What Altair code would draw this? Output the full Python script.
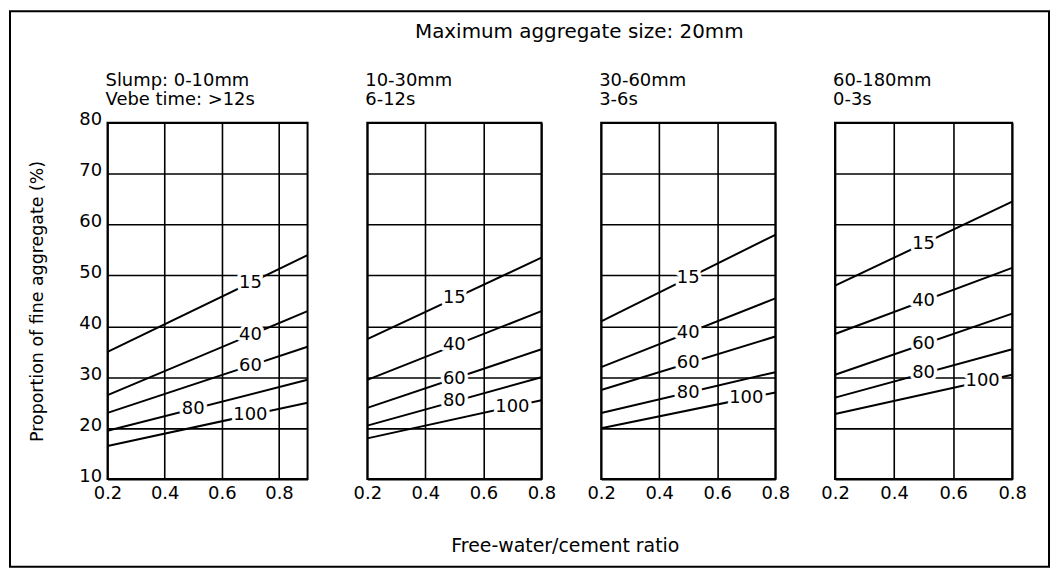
import altair as alt
import pandas as pd

FONT = "DejaVu Sans"

# ---- data ----
fine_pct = ["15", "40", "60", "80", "100"]          # % passing 600 µm sieve
slump = ["Slump: 0-10mm", "10-30mm", "30-60mm", "60-180mm"]
vebe = ["Vebe time: >12s", "6-12s", "3-6s", "0-3s"]
x_start = [0.2, 0.2, 0.2, 0.2]
x_end = [0.9, 0.8, 0.8, 0.8]
y_at_start = [
    [35.0, 26.5, 23.0, 19.5, 16.5],
    [37.5, 29.5, 24.0, 20.5, 18.0],
    [41.0, 32.0, 27.5, 23.0, 20.0],
    [48.0, 38.5, 30.5, 26.0, 22.8],
]
y_at_end = [
    [54.0, 43.0, 36.0, 29.5, 25.0],
    [53.5, 43.0, 35.5, 30.0, 25.5],
    [58.0, 45.5, 38.0, 31.0, 27.0],
    [64.5, 51.5, 42.5, 35.5, 30.5],
]
label_x = [
    [0.7, 0.7, 0.7, 0.5, 0.7],
    [0.5, 0.5, 0.5, 0.5, 0.7],
    [0.5, 0.5, 0.5, 0.5, 0.7],
    [0.5, 0.5, 0.5, 0.5, 0.7],
]
x_ticks = [0.2, 0.4, 0.6, 0.8]
y_ticks = [10, 20, 30, 40, 50, 60, 70, 80]
main_title = ["Maximum aggregate size: 20mm"]
x_title = ["Free-water/cement ratio"]
y_title = "Proportion of fine aggregate (%)"


def panel(i):
    seg_rows, lab_rows = [], []
    for k, c in enumerate(fine_pct):
        x0, x1 = x_start[i], x_end[i]
        y0, y1 = y_at_start[i][k], y_at_end[i][k]
        seg_rows.append({"curve": c, "x": x0, "y": y0})
        seg_rows.append({"curve": c, "x": x1, "y": y1})
        lx = label_x[i][k]
        ly = y0 + (y1 - y0) * (lx - x0) / (x1 - x0)
        lab_rows.append({"curve": c, "x": lx, "y": ly})
    seg = pd.DataFrame(seg_rows)
    lab = pd.DataFrame(lab_rows)

    xenc = alt.X("x:Q",
                 scale=alt.Scale(domain=[x_start[i], x_end[i]], nice=False, zero=False),
                 axis=alt.Axis(values=x_ticks, format=".1f", title=None, grid=True,
                               labelFlush=False, labelPadding=6))
    if i == 0:
        yaxis = alt.Axis(values=y_ticks, title=y_title, grid=True, labelFlush=False,
                         labelPadding=6, labelOffset=-3, titleFont=FONT, titleFontSize=17.5,
                         titleFontWeight="normal", titleColor="black", titlePadding=32)
    else:
        yaxis = alt.Axis(values=y_ticks, title=None, grid=True, labels=False)
    yenc = alt.Y("y:Q", scale=alt.Scale(domain=[10, 80], nice=False, zero=False), axis=yaxis)

    lines = alt.Chart(seg).mark_line(color="black", strokeWidth=2).encode(
        x=xenc, y=yenc, detail="curve:N")
    halo = alt.Chart(lab).mark_text(font=FONT, fontSize=18, fill="white", stroke="white",
                                    strokeWidth=7, strokeJoin="round").encode(
        x="x:Q", y="y:Q", text="curve:N")
    txt = alt.Chart(lab).mark_text(font=FONT, fontSize=18, color="black").encode(
        x="x:Q", y="y:Q", text="curve:N")
    h1 = alt.Chart(pd.DataFrame({"t": [slump[i]]})).mark_text(
        font=FONT, fontSize=18, align="left", baseline="middle", color="black").encode(
        x=alt.value(-2), y=alt.value(-42), text="t:N")
    h2 = alt.Chart(pd.DataFrame({"t": [vebe[i]]})).mark_text(
        font=FONT, fontSize=18, align="left", baseline="middle", color="black").encode(
        x=alt.value(-2), y=alt.value(-23), text="t:N")
    layers = [lines, halo, txt, h1, h2]
    if i == 0:
        border = alt.Chart(pd.DataFrame({"a": [0]})).mark_rect(
            fill="white", fillOpacity=0, stroke="black", strokeWidth=2).encode(
            x=alt.value(-98), x2=alt.value(946), y=alt.value(-112), y2=alt.value(446))
        ttl = alt.Chart(pd.DataFrame({"t": main_title})).mark_text(
            font=FONT, fontSize=20, align="center", baseline="middle", color="black").encode(
            x=alt.value(474), y=alt.value(-91), text="t:N")
        xt = alt.Chart(pd.DataFrame({"t": x_title})).mark_text(
            font=FONT, fontSize=19, align="center", baseline="middle", color="black").encode(
            x=alt.value(460), y=alt.value(425), text="t:N")
        layers = [border] + layers + [ttl, xt]
    w = [201, 175, 175, 178][i]
    return alt.layer(*layers).properties(width=w, height=358)


chart = alt.hconcat(*[panel(i) for i in range(4)], spacing=60, bounds="flush").properties(
    padding=0
).configure_view(stroke="black", strokeWidth=2).configure_axis(
    gridColor="black", gridWidth=1.6, gridOpacity=1, domain=False, ticks=False,
    labelFont=FONT, labelFontSize=18, labelColor="black"
)

chart.save("out.html", embed_options={"renderer": "svg", "actions": False})
